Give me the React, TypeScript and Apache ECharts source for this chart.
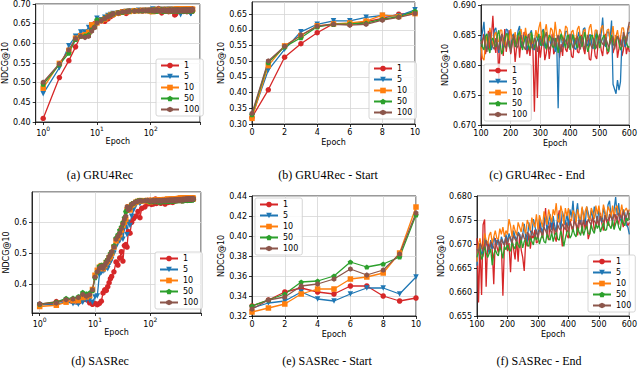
import React, { useEffect, useRef } from 'react';
import * as echarts from 'echarts';

// ---------- data ----------
const NAMES = ['1', '5', '10', '50', '100'];
const CAPTIONS = ['(a) GRU4Rec', '(b) GRU4Rec - Start', '(c) GRU4Rec - End', '(d) SASRec', '(e) SASRec - Start', '(f) SASRec - End'];

const START_EPOCHS = [0, 1, 2, 3, 4, 5, 6, 7, 8, 9, 10];
const END_EPOCHS = [
  100, 105, 110, 115, 120, 125, 130, 135, 140, 145,
  150, 155, 160, 165, 170, 175, 180, 185, 190, 195,
  200, 205, 210, 215, 220, 225, 230, 235, 240, 245,
  250, 255, 260, 265, 270, 275, 280, 285, 290, 295,
  300, 305, 310, 315, 320, 325, 330, 335, 340, 345,
  350, 355, 360, 365, 370, 375, 380, 385, 390, 395,
  400, 405, 410, 415, 420, 425, 430, 435, 440, 445,
  450, 455, 460, 465, 470, 475, 480, 485, 490, 495,
  500, 505, 510, 515, 520, 525, 530, 535, 540, 545,
  550, 555, 560, 565, 570, 575, 580, 585, 590, 595,
  600];
const GRU_MID_EPOCHS = [12, 14, 16, 18, 20, 25, 30, 35, 40, 50, 60, 70, 80, 90];
const SAS_MID_EPOCHS = [11, 12, 13, 14, 15, 16, 17, 18, 19, 20, 22, 24, 26, 28, 30, 32, 34, 36, 38, 40, 43, 46, 50, 55, 60, 65, 70, 80, 90];

// GRU4Rec
const GRU_START_1 = [0.321, 0.409, 0.513, 0.556, 0.591, 0.620, 0.617, 0.626, 0.637, 0.650, 0.654];
const GRU_START_5 = [0.325, 0.472, 0.538, 0.594, 0.618, 0.629, 0.629, 0.640, 0.646, 0.645, 0.664];
const GRU_START_10 = [0.318, 0.486, 0.549, 0.582, 0.613, 0.619, 0.622, 0.628, 0.647, 0.643, 0.652];
const GRU_START_50 = [0.330, 0.496, 0.546, 0.575, 0.610, 0.618, 0.619, 0.622, 0.634, 0.642, 0.660];
const GRU_START_100 = [0.334, 0.501, 0.548, 0.583, 0.612, 0.618, 0.615, 0.618, 0.631, 0.640, 0.652];

const GRU_MID_1 = [0.657, 0.656, 0.662, 0.668, 0.672, 0.676, 0.679, 0.676, 0.681, 0.682, 0.683, 0.682, 0.684, 0.683];
const GRU_MID_5 = [0.660, 0.666, 0.671, 0.673, 0.676, 0.678, 0.680, 0.681, 0.682, 0.683, 0.684, 0.683, 0.684, 0.683];
const GRU_MID_10 = [0.658, 0.662, 0.668, 0.672, 0.674, 0.677, 0.680, 0.681, 0.681, 0.683, 0.683, 0.684, 0.683, 0.684];
const GRU_MID_50 = [0.659, 0.664, 0.669, 0.673, 0.675, 0.678, 0.679, 0.681, 0.682, 0.683, 0.683, 0.683, 0.684, 0.683];
const GRU_MID_100 = [0.658, 0.663, 0.668, 0.671, 0.675, 0.677, 0.680, 0.680, 0.682, 0.682, 0.683, 0.684, 0.683, 0.684];

const GRU_END_1 = [
  0.6808, 0.6840, 0.6852, 0.6818, 0.6830, 0.6857, 0.6825, 0.6846, 0.6882, 0.6835,
  0.6820, 0.6850, 0.6775, 0.6838, 0.6848, 0.6815, 0.6860, 0.6822, 0.6842, 0.6858,
  0.6818, 0.6836, 0.6845, 0.6805, 0.6830, 0.6852, 0.6812, 0.6840, 0.6828, 0.6855,
  0.6850, 0.6818, 0.6832, 0.6815, 0.6846, 0.6826, 0.6722, 0.6838, 0.6745, 0.6840,
  0.6812, 0.6835, 0.6848, 0.6808, 0.6820, 0.6842, 0.6810, 0.6830, 0.6852, 0.6818,
  0.6825, 0.6845, 0.6840, 0.6812, 0.6835, 0.6815, 0.6848, 0.6826, 0.6822, 0.6850,
  0.6838, 0.6815, 0.6812, 0.6840, 0.6845, 0.6822, 0.6820, 0.6848, 0.6850, 0.6828,
  0.6818, 0.6840, 0.6842, 0.6810, 0.6808, 0.6832, 0.6835, 0.6815, 0.6810, 0.6838,
  0.6848, 0.6825, 0.6815, 0.6842, 0.6852, 0.6818, 0.6822, 0.6846, 0.6845, 0.6820,
  0.6830, 0.6850, 0.6812, 0.6828, 0.6848, 0.6815, 0.6825, 0.6845, 0.6818, 0.6832,
  0.6822];
const GRU_END_5 = [
  0.6840, 0.6855, 0.6872, 0.6830, 0.6828, 0.6848, 0.6855, 0.6825, 0.6835, 0.6858,
  0.6862, 0.6838, 0.6820, 0.6845, 0.6850, 0.6828, 0.6838, 0.6860, 0.6858, 0.6832,
  0.6826, 0.6848, 0.6852, 0.6835, 0.6840, 0.6857, 0.6865, 0.6830, 0.6830, 0.6850,
  0.6848, 0.6825, 0.6836, 0.6852, 0.6858, 0.6828, 0.6825, 0.6845, 0.6850, 0.6838,
  0.6832, 0.6855, 0.6860, 0.6830, 0.6828, 0.6846, 0.6845, 0.6835, 0.6838, 0.6852,
  0.6822, 0.6840, 0.6728, 0.6848, 0.6850, 0.6830, 0.6835, 0.6856, 0.6856, 0.6838,
  0.6830, 0.6852, 0.6848, 0.6828, 0.6826, 0.6845, 0.6855, 0.6836, 0.6840, 0.6860,
  0.6862, 0.6835, 0.6832, 0.6850, 0.6850, 0.6828, 0.6828, 0.6846, 0.6858, 0.6840,
  0.6836, 0.6852, 0.6879, 0.6838, 0.6830, 0.6855, 0.6855, 0.6842, 0.6874, 0.6768,
  0.6760, 0.6752, 0.6775, 0.6758, 0.6772, 0.6840, 0.6848, 0.6830, 0.6835, 0.6852,
  0.6855];
const GRU_END_10 = [
  0.6830, 0.6812, 0.6808, 0.6835, 0.6848, 0.6830, 0.6862, 0.6845, 0.6832, 0.6850,
  0.6855, 0.6838, 0.6840, 0.6858, 0.6858, 0.6836, 0.6830, 0.6852, 0.6850, 0.6840,
  0.6860, 0.6842, 0.6838, 0.6855, 0.6835, 0.6848, 0.6855, 0.6860, 0.6842, 0.6838,
  0.6862, 0.6845, 0.6832, 0.6852, 0.6852, 0.6835, 0.6840, 0.6858, 0.6846, 0.6862,
  0.6872, 0.6840, 0.6835, 0.6856, 0.6868, 0.6845, 0.6840, 0.6862, 0.6858, 0.6842,
  0.6872, 0.6850, 0.6838, 0.6860, 0.6855, 0.6840, 0.6845, 0.6865, 0.6862, 0.6840,
  0.6836, 0.6855, 0.6858, 0.6842, 0.6842, 0.6860, 0.6865, 0.6845, 0.6838, 0.6856,
  0.6860, 0.6840, 0.6845, 0.6862, 0.6868, 0.6848, 0.6840, 0.6858, 0.6858, 0.6842,
  0.6848, 0.6862, 0.6866, 0.6845, 0.6842, 0.6858, 0.6860, 0.6840, 0.6850, 0.6865,
  0.6835, 0.6848, 0.6858, 0.6840, 0.6845, 0.6862, 0.6862, 0.6845, 0.6840, 0.6858,
  0.6865];
const GRU_END_50 = [
  0.6842, 0.6830, 0.6825, 0.6848, 0.6852, 0.6828, 0.6820, 0.6840, 0.6845, 0.6835,
  0.6830, 0.6850, 0.6858, 0.6835, 0.6818, 0.6826, 0.6840, 0.6852, 0.6852, 0.6830,
  0.6828, 0.6840, 0.6846, 0.6830, 0.6835, 0.6850, 0.6856, 0.6835, 0.6825, 0.6838,
  0.6848, 0.6845, 0.6832, 0.6825, 0.6855, 0.6842, 0.6828, 0.6836, 0.6842, 0.6852,
  0.6836, 0.6832, 0.6858, 0.6840, 0.6826, 0.6838, 0.6850, 0.6846, 0.6832, 0.6828,
  0.6845, 0.6835, 0.6820, 0.6838, 0.6852, 0.6845, 0.6838, 0.6828, 0.6848, 0.6850,
  0.6825, 0.6838, 0.6850, 0.6842, 0.6834, 0.6828, 0.6845, 0.6848, 0.6830, 0.6842,
  0.6855, 0.6835, 0.6822, 0.6832, 0.6848, 0.6850, 0.6836, 0.6826, 0.6852, 0.6845,
  0.6828, 0.6838, 0.6845, 0.6850, 0.6838, 0.6826, 0.6822, 0.6840, 0.6850, 0.6835,
  0.6832, 0.6842, 0.6848, 0.6836, 0.6825, 0.6832, 0.6845, 0.6848, 0.6838, 0.6830,
  0.6830];
const GRU_END_100 = [
  0.6835, 0.6842, 0.6848, 0.6830, 0.6822, 0.6840, 0.6855, 0.6838, 0.6830, 0.6826,
  0.6845, 0.6836, 0.6825, 0.6840, 0.6852, 0.6845, 0.6832, 0.6828, 0.6842, 0.6838,
  0.6820, 0.6835, 0.6850, 0.6842, 0.6828, 0.6832, 0.6846, 0.6850, 0.6835, 0.6830,
  0.6825, 0.6840, 0.6852, 0.6838, 0.6830, 0.6826, 0.6845, 0.6840, 0.6822, 0.6835,
  0.6848, 0.6838, 0.6832, 0.6845, 0.6855, 0.6836, 0.6826, 0.6832, 0.6840, 0.6845,
  0.6830, 0.6842, 0.6850, 0.6832, 0.6822, 0.6835, 0.6845, 0.6840, 0.6835, 0.6828,
  0.6852, 0.6838, 0.6828, 0.6835, 0.6842, 0.6848, 0.6830, 0.6826, 0.6848, 0.6840,
  0.6825, 0.6838, 0.6850, 0.6842, 0.6833, 0.6828, 0.6845, 0.6836, 0.6828, 0.6842,
  0.6852, 0.6840, 0.6835, 0.6832, 0.6846, 0.6838, 0.6830, 0.6836, 0.6842, 0.6848,
  0.6826, 0.6838, 0.6848, 0.6842, 0.6835, 0.6830, 0.6855, 0.6845, 0.6838, 0.6860,
  0.6872];

// SASRec
const SAS_START_1 = [0.330, 0.336, 0.344, 0.348, 0.344, 0.342, 0.350, 0.350, 0.340, 0.335, 0.338];
const SAS_START_5 = [0.328, 0.333, 0.335, 0.344, 0.337, 0.335, 0.342, 0.348, 0.348, 0.342, 0.359];
const SAS_START_10 = [0.324, 0.328, 0.332, 0.342, 0.347, 0.347, 0.357, 0.359, 0.363, 0.383, 0.429];
const SAS_START_50 = [0.330, 0.336, 0.342, 0.354, 0.355, 0.360, 0.374, 0.369, 0.372, 0.379, 0.421];
const SAS_START_100 = [0.327, 0.336, 0.339, 0.350, 0.352, 0.357, 0.367, 0.361, 0.366, 0.382, 0.423];

const SAS_MID_1 = [0.334, 0.338, 0.345, 0.372, 0.382, 0.380, 0.392, 0.405, 0.418, 0.425, 0.440, 0.472, 0.462, 0.485, 0.505, 0.475, 0.525, 0.528, 0.520, 0.570, 0.565, 0.600, 0.612, 0.620, 0.635, 0.615, 0.645, 0.650, 0.660];
const SAS_MID_5 = [0.362, 0.430, 0.438, 0.442, 0.445, 0.455, 0.450, 0.465, 0.470, 0.480, 0.500, 0.520, 0.535, 0.540, 0.560, 0.545, 0.580, 0.615, 0.560, 0.600, 0.590, 0.620, 0.640, 0.655, 0.665, 0.660, 0.668, 0.670, 0.668];
const SAS_MID_10 = [0.445, 0.455, 0.460, 0.450, 0.460, 0.470, 0.475, 0.485, 0.490, 0.500, 0.520, 0.540, 0.550, 0.560, 0.575, 0.590, 0.600, 0.610, 0.640, 0.650, 0.640, 0.655, 0.660, 0.665, 0.668, 0.670, 0.670, 0.669, 0.671];
const SAS_MID_50 = [0.440, 0.458, 0.462, 0.455, 0.465, 0.475, 0.480, 0.490, 0.500, 0.505, 0.525, 0.550, 0.560, 0.575, 0.585, 0.600, 0.615, 0.635, 0.640, 0.645, 0.650, 0.660, 0.662, 0.668, 0.670, 0.671, 0.670, 0.671, 0.670];
const SAS_MID_100 = [0.440, 0.452, 0.458, 0.452, 0.462, 0.470, 0.478, 0.488, 0.495, 0.505, 0.520, 0.545, 0.555, 0.565, 0.580, 0.595, 0.610, 0.620, 0.650, 0.640, 0.645, 0.658, 0.662, 0.666, 0.668, 0.670, 0.669, 0.670, 0.671];

const SAS_END_1 = [
  0.6712, 0.6578, 0.6700, 0.6594, 0.6740, 0.6751, 0.6611, 0.6705, 0.6690, 0.6702,
  0.6688, 0.6616, 0.6712, 0.6695, 0.6682, 0.6705, 0.6700, 0.6592, 0.6698, 0.6715,
  0.6685, 0.6702, 0.6641, 0.6710, 0.6690, 0.6668, 0.6712, 0.6663, 0.6720, 0.6688,
  0.6672, 0.6644, 0.6708, 0.6695, 0.6722, 0.6690, 0.6718, 0.6712, 0.6730, 0.6702,
  0.6705, 0.6742, 0.6728, 0.6712, 0.6735, 0.6775, 0.6720, 0.6708, 0.6745, 0.6730,
  0.6745, 0.6715, 0.6705, 0.6752, 0.6770, 0.6728, 0.6695, 0.6740, 0.6748, 0.6718,
  0.6712, 0.6752, 0.6735, 0.6725, 0.6760, 0.6742, 0.6718, 0.6740, 0.6755, 0.6722,
  0.6755, 0.6730, 0.6748, 0.6710, 0.6722, 0.6745, 0.6758, 0.6728, 0.6738, 0.6752,
  0.6735, 0.6765, 0.6742, 0.6728, 0.6760, 0.6748, 0.6738, 0.6755, 0.6768, 0.6740,
  0.6732, 0.6762, 0.6750, 0.6740, 0.6770, 0.6752, 0.6735, 0.6760, 0.6748, 0.6738,
  0.6745];
const SAS_END_5 = [
  0.6655, 0.6690, 0.6700, 0.6678, 0.6685, 0.6712, 0.6702, 0.6695, 0.6680, 0.6708,
  0.6690, 0.6715, 0.6705, 0.6698, 0.6712, 0.6688, 0.6715, 0.6705, 0.6698, 0.6720,
  0.6705, 0.6722, 0.6710, 0.6700, 0.6728, 0.6715, 0.6708, 0.6725, 0.6720, 0.6705,
  0.6720, 0.6742, 0.6712, 0.6705, 0.6745, 0.6728, 0.6718, 0.6752, 0.6738, 0.6722,
  0.6718, 0.6752, 0.6735, 0.6722, 0.6748, 0.6758, 0.6728, 0.6745, 0.6762, 0.6730,
  0.6758, 0.6738, 0.6725, 0.6762, 0.6750, 0.6732, 0.6768, 0.6755, 0.6740, 0.6765,
  0.6738, 0.6772, 0.6755, 0.6790, 0.6745, 0.6762, 0.6785, 0.6748, 0.6742, 0.6775,
  0.6760, 0.6740, 0.6778, 0.6765, 0.6748, 0.6770, 0.6752, 0.6778, 0.6760, 0.6748,
  0.6770, 0.6755, 0.6745, 0.6775, 0.6762, 0.6750, 0.6782, 0.6790, 0.6758, 0.6748,
  0.6772, 0.6798, 0.6760, 0.6785, 0.6752, 0.6745, 0.6772, 0.6765, 0.6740, 0.6735,
  0.6720];
const SAS_END_10 = [
  0.6663, 0.6700, 0.6712, 0.6690, 0.6695, 0.6722, 0.6708, 0.6700, 0.6718, 0.6725,
  0.6702, 0.6715, 0.6728, 0.6712, 0.6710, 0.6732, 0.6720, 0.6735, 0.6715, 0.6728,
  0.6720, 0.6752, 0.6738, 0.6715, 0.6740, 0.6728, 0.6718, 0.6745, 0.6735, 0.6725,
  0.6745, 0.6732, 0.6722, 0.6750, 0.6740, 0.6728, 0.6755, 0.6742, 0.6735, 0.6762,
  0.6730, 0.6760, 0.6748, 0.6735, 0.6768, 0.6755, 0.6740, 0.6772, 0.6758, 0.6745,
  0.6772, 0.6760, 0.6785, 0.6748, 0.6745, 0.6780, 0.6765, 0.6742, 0.6775, 0.6758,
  0.6775, 0.6750, 0.6748, 0.6770, 0.6762, 0.6745, 0.6772, 0.6758, 0.6750, 0.6778,
  0.6750, 0.6768, 0.6778, 0.6755, 0.6748, 0.6775, 0.6765, 0.6752, 0.6780, 0.6762,
  0.6780, 0.6758, 0.6755, 0.6782, 0.6768, 0.6752, 0.6778, 0.6770, 0.6755, 0.6780,
  0.6755, 0.6775, 0.6780, 0.6758, 0.6762, 0.6782, 0.6760, 0.6770, 0.6775, 0.6765,
  0.6772];
const SAS_END_50 = [
  0.6672, 0.6685, 0.6690, 0.6668, 0.6675, 0.6695, 0.6682, 0.6672, 0.6680, 0.6690,
  0.6656, 0.6678, 0.6688, 0.6680, 0.6675, 0.6695, 0.6685, 0.6670, 0.6695, 0.6688,
  0.6700, 0.6688, 0.6685, 0.6705, 0.6695, 0.6690, 0.6708, 0.6698, 0.6692, 0.6710,
  0.6692, 0.6705, 0.6712, 0.6698, 0.6695, 0.6715, 0.6705, 0.6698, 0.6718, 0.6708,
  0.6718, 0.6700, 0.6712, 0.6720, 0.6705, 0.6702, 0.6722, 0.6712, 0.6708, 0.6725,
  0.6705, 0.6718, 0.6725, 0.6710, 0.6708, 0.6728, 0.6715, 0.6695, 0.6712, 0.6725,
  0.6730, 0.6712, 0.6718, 0.6732, 0.6720, 0.6715, 0.6735, 0.6725, 0.6718, 0.6738,
  0.6718, 0.6730, 0.6738, 0.6722, 0.6720, 0.6740, 0.6728, 0.6722, 0.6742, 0.6732,
  0.6742, 0.6725, 0.6735, 0.6745, 0.6728, 0.6730, 0.6748, 0.6738, 0.6732, 0.6750,
  0.6730, 0.6742, 0.6750, 0.6735, 0.6728, 0.6752, 0.6745, 0.6738, 0.6755, 0.6748,
  0.6765];
const SAS_END_100 = [
  0.6690, 0.6682, 0.6702, 0.6695, 0.6685, 0.6700, 0.6708, 0.6692, 0.6688, 0.6705,
  0.6700, 0.6692, 0.6688, 0.6708, 0.6705, 0.6695, 0.6710, 0.6702, 0.6698, 0.6715,
  0.6698, 0.6712, 0.6715, 0.6702, 0.6718, 0.6710, 0.6705, 0.6722, 0.6715, 0.6708,
  0.6722, 0.6712, 0.6708, 0.6725, 0.6718, 0.6712, 0.6728, 0.6720, 0.6715, 0.6730,
  0.6712, 0.6730, 0.6725, 0.6718, 0.6735, 0.6728, 0.6720, 0.6738, 0.6730, 0.6722,
  0.6738, 0.6728, 0.6725, 0.6740, 0.6732, 0.6728, 0.6742, 0.6735, 0.6730, 0.6745,
  0.6725, 0.6745, 0.6738, 0.6732, 0.6748, 0.6740, 0.6735, 0.6750, 0.6742, 0.6738,
  0.6750, 0.6742, 0.6738, 0.6752, 0.6745, 0.6740, 0.6755, 0.6748, 0.6742, 0.6758,
  0.6738, 0.6758, 0.6750, 0.6745, 0.6760, 0.6752, 0.6748, 0.6762, 0.6755, 0.6750,
  0.6762, 0.6755, 0.6750, 0.6765, 0.6758, 0.6752, 0.6768, 0.6760, 0.6755, 0.6770,
  0.6750];

const GRU_START = [GRU_START_1, GRU_START_5, GRU_START_10, GRU_START_50, GRU_START_100];
const GRU_MID = [GRU_MID_1, GRU_MID_5, GRU_MID_10, GRU_MID_50, GRU_MID_100];
const GRU_END = [GRU_END_1, GRU_END_5, GRU_END_10, GRU_END_50, GRU_END_100];
const SAS_START = [SAS_START_1, SAS_START_5, SAS_START_10, SAS_START_50, SAS_START_100];
const SAS_MID = [SAS_MID_1, SAS_MID_5, SAS_MID_10, SAS_MID_50, SAS_MID_100];
const SAS_END = [SAS_END_1, SAS_END_5, SAS_END_10, SAS_END_50, SAS_END_100];

// ---------- styles ----------
const COLORS = ['#d62728', '#1f77b4', '#ff7f0e', '#2ca02c', '#8c564b'];
const SYMBOLS = [
  'circle',
  'triangle',
  'rect',
  'path://M50,0 L97.6,34.5 L79.4,90.5 L20.6,90.5 L2.4,34.5 Z',
  'path://M50,0 L93.3,25 L93.3,75 L50,100 L6.7,75 L6.7,25 Z',
];
const ROTATE = [0, 180, 0, 0, 0];
const FONT = 'DejaVu Sans';

const GRIDS = [
  { left: 33, top: 3, width: 167, height: 119 },
  { left: 252, top: 2, width: 163, height: 122 },
  { left: 481, top: 5, width: 152, height: 120 },
  { left: 32, top: 192, width: 169, height: 121 },
  { left: 252, top: 196, width: 164, height: 120 },
  { left: 477, top: 196, width: 156, height: 120 },
];
const LEGEND_POS = [
  [156, 59], [369, 62], [484, 64], [155, 252], [255, 198], [588, 255],
];
const Y_NAME_GAP = [24, 27, 28, 19, 24, 27];
const CAP_POS = [[100, 175], [328, 175], [537, 175], [100, 361], [327, 361], [539, 361]];

function pairs(xs: number[], ys: number[], from = 0) {
  const out: number[][] = [];
  for (let i = from; i < xs.length; i++) out.push([xs[i], ys[i]]);
  return out;
}

function buildOption() {
  const axisLine = { show: true, onZero: false, lineStyle: { color: '#000', width: 0.8 } };
  const axisTick = { show: true, length: 3, lineStyle: { color: '#000', width: 0.8 } };
  const splitLine = { show: true, lineStyle: { color: '#d5d5d5', width: 0.8 } };
  const label = { color: '#000', fontSize: 8, fontFamily: FONT };
  const nameStyle = { color: '#000', fontSize: 8, fontFamily: FONT };

  const logFormatter = (v: number) => {
    const l = Math.log10(v);
    const r = Math.round(l);
    return Math.abs(l - r) < 1e-6 && r >= 0 ? '{b|10}{s|' + r + '}' : '';
  };
  const logLabel = {
    ...label,
    margin: 3,
    formatter: logFormatter,
    rich: {
      b: { fontSize: 8, fontFamily: FONT, color: '#000', lineHeight: 12, verticalAlign: 'bottom' },
      s: { fontSize: 6, fontFamily: FONT, color: '#000', lineHeight: 7, verticalAlign: 'top' },
    },
  };

  const xBase = (i: number) => ({
    gridIndex: i,
    name: 'Epoch',
    nameLocation: 'middle',
    nameGap: 14,
    nameTextStyle: nameStyle,
    axisLine, axisTick, splitLine,
  });

  const xAxis = [
    { ...xBase(0), type: 'log', logBase: 10, min: 0.726, max: 826, axisLabel: logLabel },
    { ...xBase(1), type: 'value', min: 0, max: 10, interval: 2, axisLabel: { ...label, margin: 4 } },
    { ...xBase(2), type: 'value', min: 100, max: 600, interval: 100, axisLabel: { ...label, margin: 4 } },
    { ...xBase(3), type: 'log', logBase: 10, min: 0.726, max: 826, axisLabel: logLabel },
    { ...xBase(4), type: 'value', min: 0, max: 10, interval: 2, axisLabel: { ...label, margin: 4 } },
    { ...xBase(5), type: 'value', min: 100, max: 600, interval: 100, axisLabel: { ...label, margin: 4 } },
  ];

  const yBase = (i: number) => ({
    gridIndex: i,
    type: 'value',
    name: 'NDCG@10',
    nameLocation: 'middle',
    nameGap: Y_NAME_GAP[i],
    nameTextStyle: nameStyle,
    axisLine, axisTick, splitLine,
  });

  const yAxis = [
    { ...yBase(0), min: 0.4, max: 0.7, interval: 0.05, axisLabel: { ...label, margin: 5, formatter: (v: number) => v.toFixed(2) } },
    { ...yBase(1), min: 0.3, max: 0.689, interval: 0.05, axisLabel: { ...label, margin: 5, showMaxLabel: false, formatter: (v: number) => (Math.abs(v * 20 - Math.round(v * 20)) < 1e-6 ? v.toFixed(2) : '') } },
    { ...yBase(2), min: 0.67, max: 0.69, interval: 0.005, axisLabel: { ...label, margin: 5, formatter: (v: number) => v.toFixed(3) } },
    { ...yBase(3), min: 0.307, max: 0.698, splitNumber: 4, axisLabel: { ...label, margin: 5, showMinLabel: false, showMaxLabel: false, formatter: (v: number) => (Math.abs(v * 10 - Math.round(v * 10)) < 1e-6 ? v.toFixed(1) : '') } },
    { ...yBase(4), min: 0.32, max: 0.44, interval: 0.02, axisLabel: { ...label, margin: 5, formatter: (v: number) => v.toFixed(2) } },
    { ...yBase(5), min: 0.655, max: 0.68, interval: 0.005, axisLabel: { ...label, margin: 5, formatter: (v: number) => v.toFixed(3) } },
  ];

  const series: any[] = [];
  const mk = (g: number, k: number, data: number[][], showSymbol: boolean) => ({
    type: 'line',
    name: NAMES[k],
    xAxisIndex: g,
    yAxisIndex: g,
    data,
    symbol: SYMBOLS[k],
    symbolSize: 5.5,
    symbolRotate: ROTATE[k],
    symbolKeepAspect: true,
    showSymbol,
    lineStyle: { color: COLORS[k], width: 1.3 },
    itemStyle: { color: COLORS[k] },
    silent: true,
  });

  for (let k = 0; k < 5; k++) {
    const full = [
      ...pairs(START_EPOCHS, GRU_START[k], 1),
      ...pairs(GRU_MID_EPOCHS, GRU_MID[k]),
      ...pairs(END_EPOCHS, GRU_END[k]),
    ];
    series.push(mk(0, k, full, true));
  }
  for (let k = 0; k < 5; k++) series.push(mk(1, k, pairs(START_EPOCHS, GRU_START[k]), true));
  for (let k = 0; k < 5; k++) series.push(mk(2, k, pairs(END_EPOCHS, GRU_END[k]), false));
  for (let k = 0; k < 5; k++) {
    const full = [
      ...pairs(START_EPOCHS, SAS_START[k], 1),
      ...pairs(SAS_MID_EPOCHS, SAS_MID[k]),
      ...pairs(END_EPOCHS, SAS_END[k]),
    ];
    series.push(mk(3, k, full, true));
  }
  for (let k = 0; k < 5; k++) series.push(mk(4, k, pairs(START_EPOCHS, SAS_START[k]), true));
  for (let k = 0; k < 5; k++) series.push(mk(5, k, pairs(END_EPOCHS, SAS_END[k]), false));

  const legend = LEGEND_POS.map(([l, t]) => ({
    orient: 'vertical',
    left: l,
    top: t,
    data: NAMES,
    selectedMode: false,
    itemWidth: 18,
    itemHeight: 7,
    itemGap: 2,
    padding: [2, 4, 2, 4],
    borderColor: '#cccccc',
    borderWidth: 0.8,
    borderRadius: 2,
    backgroundColor: 'rgba(255,255,255,0.8)',
    textStyle: { color: '#000', fontSize: 8, fontFamily: FONT, fontWeight: 'normal', lineHeight: 9 },
  }));

  const graphic = CAPTIONS.map((t, i) => ({
    type: 'text',
    x: CAP_POS[i][0],
    y: CAP_POS[i][1],
    style: {
      text: t,
      fontSize: 12,
      fontWeight: 'normal',
      fontFamily: 'Liberation Serif',
      fill: '#000',
      align: 'center',
      verticalAlign: 'middle',
    },
  }));

  return {
    animation: false,
    backgroundColor: '#ffffff',
    grid: GRIDS.map((g) => ({ ...g, show: true, borderColor: '#000', borderWidth: 0.8, containLabel: false })),
    xAxis,
    yAxis,
    legend,
    series,
    graphic,
  };
}

export default function App() {
  const ref = useRef<HTMLDivElement>(null);
  useEffect(() => {
    if (!ref.current) return;
    const chart = echarts.init(ref.current, null, { renderer: 'svg' });
    chart.setOption(buildOption() as any);
    return () => chart.dispose();
  }, []);
  return (
    <div
      ref={ref}
      style={{ position: 'fixed', left: 0, top: 0, width: 640, height: 374, background: '#fff' }}
    />
  );
}
